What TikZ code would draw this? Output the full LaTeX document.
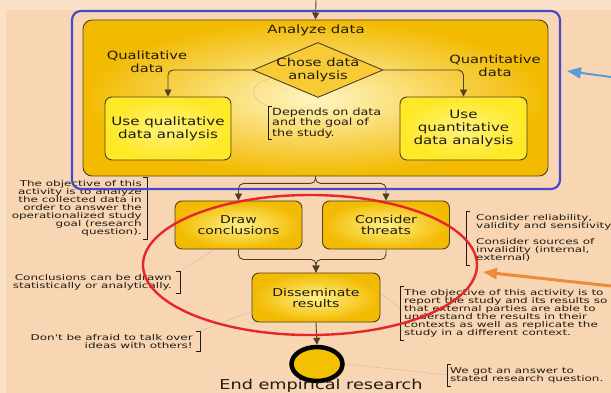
\documentclass[tikz,border=0pt]{standalone}
\usepackage{fontspec}
\setmainfont{DejaVu Sans}[FakeStretch=1.3]
\newfontfamily\notefont{DejaVu Sans}[FakeStretch=1.5]
\usetikzlibrary{positioning, shapes.geometric, arrows.meta}

\definecolor{peach}{HTML}{F8D6B3}
\definecolor{peachlight}{HTML}{FBE1C7}
\definecolor{gold}{HTML}{F2BA00}
\definecolor{cream}{HTML}{FFF5C4}
\definecolor{lemon}{HTML}{FFE826}
\definecolor{lemonlight}{HTML}{FFF37C}
\definecolor{dia}{HTML}{F7CA36}
\definecolor{rim}{HTML}{4F4020}
\definecolor{ink}{HTML}{1F1B15}
\definecolor{hintgray}{HTML}{A89A8A}
\definecolor{frameblue}{HTML}{4549CF}
\definecolor{ringred}{HTML}{E6262B}
\definecolor{pointblue}{HTML}{5A9BDC}
\definecolor{pointorange}{HTML}{EF8A3A}

\begin{document}
\begin{tikzpicture}[x=1pt, y=-1pt,
  panel/.style={draw=rim, line width=0.9pt, rounded corners=9pt, inner color=cream, outer color=gold},
  act/.style={draw=rim, line width=0.9pt, rounded corners=7pt, inner color=cream!60!lemon, outer color=gold,
    minimum width=127pt, minimum height=48pt, align=center, text=ink, font=\fontsize{10.8}{11}\selectfont},
  use/.style={act, inner color=lemonlight, outer color=lemon, minimum height=63pt, font=\fontsize{11.6}{13}\selectfont},
  choice/.style={diamond, draw=rim, line width=0.9pt, fill=dia, minimum width=130pt, minimum height=55pt, inner sep=0pt},
  tag/.style={align=center, text=ink, font=\fontsize{11.3}{12.8}\selectfont},
  note/.style={font=\notefont\fontsize{8}{8.1}\selectfont, text=ink, inner xsep=4pt, inner ysep=3pt},
  brace/.style={draw=ink, line width=0.8pt},
  hint/.style={draw=hintgray, densely dotted, line width=0.5pt},
  flow/.style={draw=rim, line width=0.9pt, rounded corners=5pt, -{Triangle[width=7pt,length=7pt]}},
  pointer/.style={line width=2pt, -{Triangle[width=11pt,length=14pt]}}]

\useasboundingbox (0,0) rectangle (611,393);
\fill[peachlight] (0,0) rectangle (611,393);
\fill[peach] (6,10) rectangle (611,393);

% analysis panel
\node[panel, minimum width=465pt, minimum height=156pt] (analyze) at (315.5,98) {};
\node[tag, font=\fontsize{11.5}{13}\selectfont] (title) at (316,30) {Analyze data};
\node[choice] (choose) at (318,70) {};
\node[tag] (chooselbl) at (choose) {Chose data\\analysis};
\node[tag] (qualtag) at (147,62) {Qualitative\\data};
\node[tag] (quanttag) at (495,66) {Quantitative\\data};
\node[use, minimum width=126pt] (qual) at (168,128.5) {Use qualitative\\data analysis};
\node[use] (quant) at (463.5,128.5) {Use\\quantitative\\data analysis};
\node[anchor=north west, align=left, text=ink, font=\fontsize{9.8}{10.5}\selectfont, inner xsep=4pt, inner ysep=1.5pt]
  (depends) at (268,106) {Depends on data\\and the goal of\\the study.};

% later activities
\node[act] (concl) at (238.5,225) {Draw\\conclusions};
\node[act] (threats) at (386,225) {Consider\\threats};
\node[act, minimum width=128pt, minimum height=49pt] (dissem) at (316,297.5) {Disseminate\\results};
\node[ellipse, draw=black, line width=4.5pt, fill=gold!90!yellow, minimum width=51pt, minimum height=34pt] (end) at (317,364) {};
\node[text=ink, font=\fontsize{13.6}{15}\selectfont] (endtag) at (321,385.5) {End empirical research};

% side notes
\node[note, anchor=north east, align=right, inner xsep=5pt] (n1) at (147,177)
  {The objective of this\\activity is to analyze\\the collected data in\\order to answer the\\operationalized study\\goal (research\\question).};
\node[note, anchor=north east, align=right, inner xsep=8pt] (n2) at (180,271)
  {Conclusions can be drawn\\statistically or analytically.};
\node[note, anchor=north east, align=right, inner xsep=7pt] (n3) at (200,331)
  {Don't be afraid to talk over\\ideas with others!};
\node[note, anchor=north west, align=left, inner xsep=10pt] (n4) at (466,211)
  {Consider reliability,\\validity and sensitivity\\[8pt]Consider sources of\\invalidity (internal,\\external)};
\node[note, anchor=north west, align=left] (n5) at (400,286)
  {The objective of this activity is to\\report the study and its results so\\that external parties are able to\\understand the results in their\\contexts as well as replicate the\\study in a different context.};
\node[note, anchor=north west, align=left, inner xsep=3pt] (n6) at (447,364)
  {We got an answer to\\stated research question.};

% brackets
\draw[brace] ([xshift=4pt]depends.north west) -- (depends.north west) -- (depends.south west) -- ([xshift=4pt]depends.south west);
\foreach \n in {n1, n2, n3}
  \draw[brace] ([xshift=-4pt]\n.north east) -- (\n.north east) -- (\n.south east) -- ([xshift=-4pt]\n.south east);
\foreach \n in {n4, n5, n6}
  \draw[brace] ([xshift=4pt]\n.north west) -- (\n.north west) -- (\n.south west) -- ([xshift=4pt]\n.south west);

% dotted hints
\draw[hint] (choose.190) .. controls (246,84) and (250,100) .. (depends.north west);
\draw[hint] (n1.north east) -- ([xshift=76pt]analyze.south west);
\draw[hint] (n2.north east) -- ([xshift=40pt]concl.south west);
\draw[hint] (n3.north east) -- ([yshift=11pt]dissem.south west);
\draw[hint] ([yshift=4pt]dissem.east) -- ([yshift=5pt]n5.west);
\draw[hint] (end.east) -- (n6.west);

% flow
\coordinate (entry) at (316,0);
\draw[flow] (entry) -- (analyze.north);
\draw[flow] (choose.west) -| (qual.north);
\draw[flow] (choose.east) -| (quant.north);
\draw[flow] (analyze.south) -- ++(0,7) -| (concl.north);
\draw[flow] (analyze.south) -- ++(0,7) -| (threats.north);
\draw[flow] (concl.south) -- ++(0,10) -| (dissem.north);
\draw[flow] (threats.south) -- ++(0,10) -| (dissem.north);
\draw[flow] (dissem.south) -- (end.north);

% markings on top
\draw[ringred, line width=2.4pt] (310,265) ellipse [x radius=167, y radius=70];
\draw[frameblue, line width=2.2pt, rounded corners=9pt] (72,11) rectangle (560,189);
\coordinate (bluefrom) at (611,77);
\coordinate (blueto) at (567,71);
\draw[pointer, pointblue] (bluefrom) -- (blueto);
\coordinate (orangefrom) at (611,286);
\coordinate (orangeto) at (483,272);
\draw[pointer, pointorange, line width=3pt] (orangefrom) -- (orangeto);
\end{tikzpicture}
\end{document}
